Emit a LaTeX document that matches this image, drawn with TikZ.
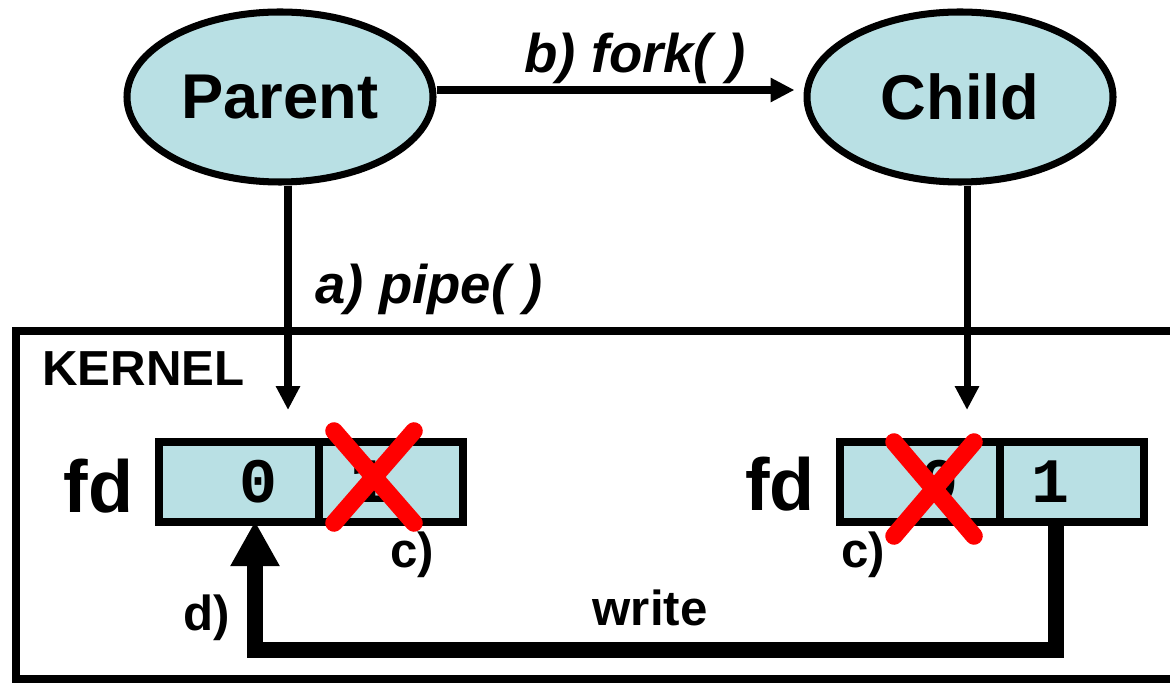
\documentclass[tikz,border=0pt]{standalone}
\usepackage{fontspec}
\setmainfont{Liberation Sans}
\newfontfamily\digitfont{Liberation Mono}
\usetikzlibrary{arrows.meta,shapes.geometric,positioning}

\begin{document}
\begin{tikzpicture}[
    every node/.style={font=\bfseries, text=black},
    proc/.style={ellipse, draw=black, line width=2pt, fill=procfill, minimum width=3.06cm, minimum height=1.70cm, inner sep=0pt, font=\fontsize{18}{20}\selectfont\bfseries},
    cell/.style={rectangle, draw=black, line width=2.3pt, fill=procfill, minimum height=0.80cm, inner ysep=0pt, outer sep=0pt, font=\fontsize{18}{20}\selectfont\digitfont\bfseries},
    readend/.style={cell, minimum width=1.60cm, text width=0.76cm, inner xsep=0.42cm, align=right},
    writeend/.style={cell, minimum width=1.44cm, text width=0.82cm, inner xsep=0.31cm, align=left},
    call/.style={font=\fontsize{15.5}{18}\selectfont\bfseries\itshape},
    note/.style={font=\fontsize{14}{16}\selectfont\bfseries},
    fdlabel/.style={font=\fontsize{21}{24}\selectfont\bfseries},
    link/.style={-{Triangle[length=0.24cm,width=0.23cm]}, line width=2pt},
    cross/.style={red, line width=5pt, line cap=round}
]
\definecolor{procfill}{RGB}{185,224,228}  % light cyan
\definecolor{red}{RGB}{255,0,0}

\useasboundingbox (0,0) rectangle (11.70,6.84);

% Kernel area, open to the right
\draw[line width=2.3pt] (11.70,3.53) -- (0.16,3.53) -- (0.16,0.05) -- (11.70,0.05);
\node[note, anchor=base west] (kernel) at (0.30,2.99) {KERNEL};

% Processes
\node[proc] (parent) at (2.80,5.87) {Parent};
\node[proc] (child) at (9.60,5.87) {Child};

\draw[link, shorten >=0.09cm] ([yshift=0.07cm]parent.east) -- ([yshift=0.07cm]child.west);
\node[call, anchor=base] (forklbl) at (6.35,6.11) {b) fork( )};

% Descriptor tables
\node[fdlabel, anchor=base] (lfd) at (0.985,1.72) {fd};
\node[readend] (lc0) at (2.39,2.02) {0};
\node[writeend, anchor=west] (lc1) at (lc0.east) {1};

\node[fdlabel, anchor=base] (rfd) at (7.80,1.74) {fd};
\node[readend] (rc0) at (9.20,2.02) {0};
\node[writeend, anchor=west] (rc1) at (rc0.east) {1};

% Calls into the kernel
\coordinate (ptip) at (2.88,2.74);
\coordinate (ctip) at (9.67,2.74);
\draw[link] (ptip |- parent.south) -- (ptip);
\draw[link] (ctip |- child.south) -- (ctip);
\node[call, anchor=base] (pipelbl) at (4.29,3.81) {a) pipe( )};

% Closed ends
\draw[cross] (3.34,2.53) -- (4.14,1.61);
\draw[cross] (4.14,2.53) -- (3.34,1.61);
\draw[cross] (8.94,2.42) -- (9.74,1.48);
\draw[cross] (9.74,2.42) -- (8.94,1.48);
\node[note, anchor=base] (lclose) at (4.12,1.17) {c)};
\node[note, anchor=base] (rclose) at (8.63,1.17) {c)};

% Data flow from the child's write end to the parent's read end
\draw[line width=4.3pt, -{Triangle[length=0.45cm,width=0.46cm]}, shorten >=-0.01cm]
    ([xshift=-0.16cm]rc1.south) -- ++(0,-1.28) -| ([xshift=0.16cm]lc0.south);
\node[note, anchor=base] (writelbl) at (6.50,0.59) {write};
\node[note, anchor=base] (readlbl) at (2.07,0.54) {d)};

\end{tikzpicture}
\end{document}
